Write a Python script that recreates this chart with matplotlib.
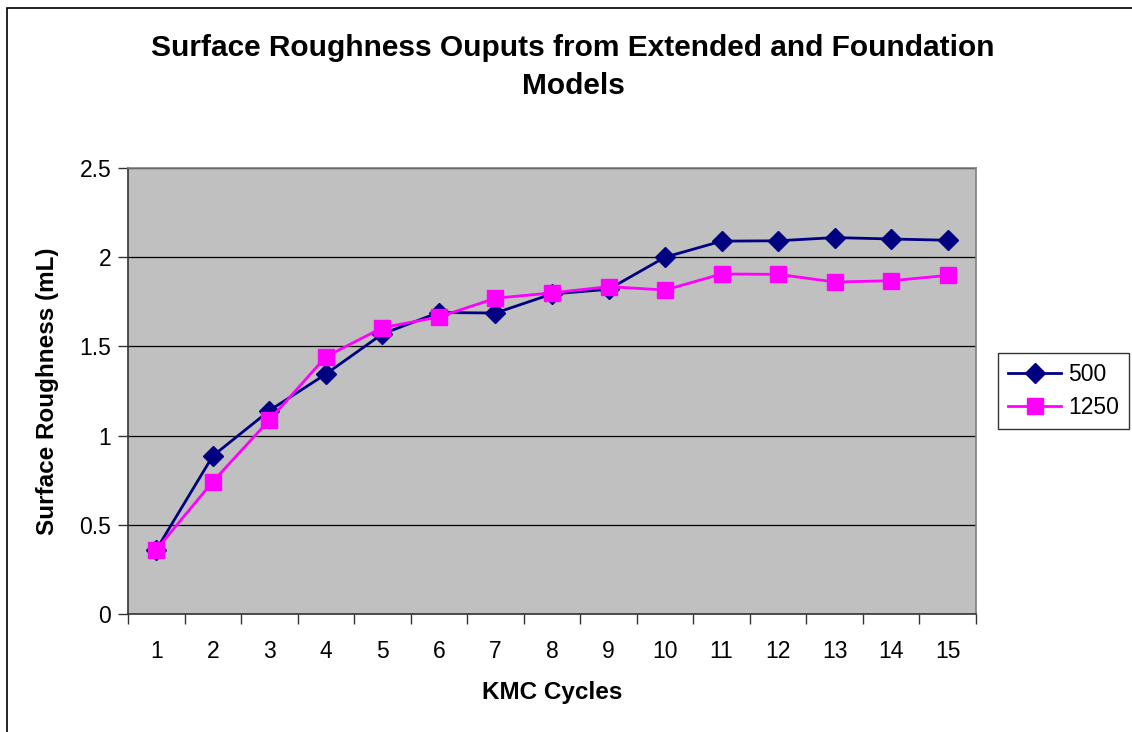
import matplotlib
matplotlib.use("Agg")
import matplotlib.pyplot as plt
from matplotlib.patches import Rectangle
from matplotlib.ticker import FixedLocator, NullFormatter

plt.rcParams['font.family'] = ['Liberation Sans', 'DejaVu Sans']

cycles = [str(i) for i in range(1, 16)]
series_500 = [0.36, 0.886, 1.14, 1.345, 1.57, 1.69, 1.687, 1.794, 1.82, 2.0,
              2.09, 2.092, 2.11, 2.102, 2.095]
series_1250 = [0.36, 0.742, 1.087, 1.442, 1.605, 1.665, 1.77, 1.80, 1.835, 1.816,
               1.906, 1.904, 1.861, 1.868, 1.898]
y_ticks = [0, 0.5, 1, 1.5, 2, 2.5]

W, H = 1132, 732
fig = plt.figure(figsize=(W / 100, H / 100), dpi=100)
fig.patch.set_facecolor('white')

# outer chart border
fig.add_artist(Rectangle((6.5 / W, -0.1), 1.2, 1 - 7.5 / H + 0.1,
                         transform=fig.transFigure, fill=False,
                         edgecolor='black', linewidth=1.2, zorder=0))

ax = fig.add_axes([128 / W, (H - 614) / H, 848 / W, 446 / H])
ax.set_facecolor('#C0C0C0')

x = list(range(1, len(cycles) + 1))
ax.plot(x, series_500, color='#000080', linewidth=2, marker='D',
        markersize=10, markerfacecolor='#000080', markeredgecolor='#000080',
        label='500', zorder=3)
ax.plot(x, series_1250, color='#FF00FF', linewidth=2, marker='s',
        markersize=11, markerfacecolor='#FF00FF', markeredgecolor='#FF00FF',
        label='1250', zorder=3)

ax.set_xlim(0.5, len(cycles) + 0.5)
ax.set_ylim(0, 2.5)
ax.set_yticks(y_ticks)
ax.set_yticklabels([f'{v:g}' for v in y_ticks])
ax.yaxis.grid(True, color='black', linewidth=0.9)
ax.set_axisbelow(True)

# category labels at centres, tick marks at category boundaries
ax.set_xticks(x)
ax.set_xticklabels(cycles)
ax.tick_params(axis='x', which='major', length=0, pad=19, labelsize=16.5)
ax.xaxis.set_minor_locator(FixedLocator([i + 0.5 for i in range(0, len(cycles) + 1)]))
ax.xaxis.set_minor_formatter(NullFormatter())
ax.tick_params(axis='x', which='minor', length=7, width=1, color='#333333')
ax.tick_params(axis='y', length=7, width=1, color='#333333', labelsize=16.5, pad=5)

for side in ['top', 'right']:
    ax.spines[side].set_color('#808080')
    ax.spines[side].set_linewidth(1.2)
for side in ['left', 'bottom']:
    ax.spines[side].set_color('#333333')
    ax.spines[side].set_linewidth(1.2)

fig.text(573 / W, 1 - 48 / H, 'Surface Roughness Ouputs from Extended and Foundation',
         ha='center', va='center', fontsize=21.5, fontweight='bold')
fig.text(573 / W, 1 - 86 / H, 'Models',
         ha='center', va='center', fontsize=21.5, fontweight='bold')
fig.text(552 / W, 1 - 692 / H, 'KMC Cycles', ha='center', va='center',
         fontsize=17.5, fontweight='bold')
fig.text(48 / W, 1 - 391 / H, 'Surface Roughness (mL)', ha='center', va='center',
         rotation=90, fontsize=17.5, fontweight='bold')

leg = ax.legend(loc='center left', bbox_to_anchor=(998 / W, 1 - 391 / H),
                bbox_transform=fig.transFigure, fontsize=16.5, frameon=True,
                fancybox=False, edgecolor='black', borderpad=0.45,
                handlelength=2.3, handletextpad=0.3, labelspacing=0.45,
                borderaxespad=0)
leg.get_frame().set_linewidth(1.0)

fig.savefig('out.png', dpi=100)
